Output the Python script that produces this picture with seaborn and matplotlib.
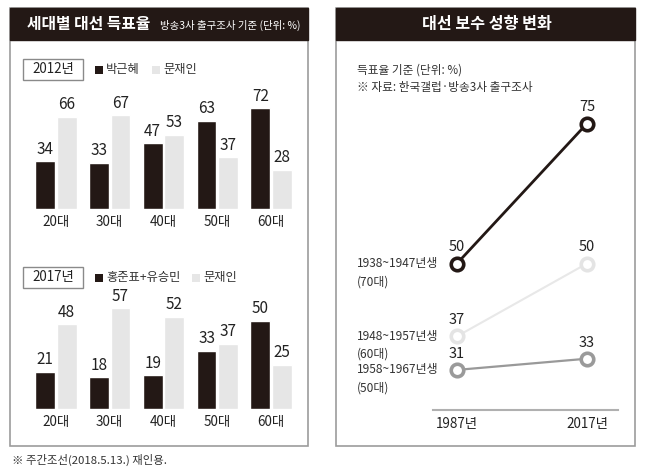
import numpy as np
import pandas as pd
import matplotlib
matplotlib.use("Agg")
import matplotlib.pyplot as plt
import seaborn as sns
from matplotlib.patches import Rectangle

sns.set_theme(style="white")
plt.rcParams['font.family'] = ['Noto Sans CJK KR', 'DejaVu Sans']

# ---------------- data ----------------
age_groups = ["20대", "30대", "40대", "50대", "60대"]
cand_2012 = ["박근혜", "문재인"]
park_2012 = [34, 33, 47, 63, 72]
moon_2012 = [66, 67, 53, 37, 28]
cand_2017 = ["홍준표+유승민", "문재인"]
hong_yoo_2017 = [21, 18, 19, 33, 50]
moon_2017 = [48, 57, 52, 37, 25]

years = [1987, 2017]
year_labels = ["1987년", "2017년"]
cohorts = ["1938~1947년생", "1948~1957년생", "1958~1967년생"]
cohort_ages = ["(70대)", "(60대)", "(50대)"]
cohort_1938_47 = [50, 75]
cohort_1948_57 = [37, 50]
cohort_1958_67 = [31, 33]

DARK = "#231815"
LIGHT = "#e6e6e6"
BORDER = "#9c9c9c"
TXT = "#222222"

W, H = 650, 471
fig = plt.figure(figsize=(W / 100, H / 100), dpi=100)


def px_axes(x0, y0, x1, y1):
    return [x0 / W, 1 - y1 / H, (x1 - x0) / W, (y1 - y0) / H]


# background axes in pixel coordinates
bg = fig.add_axes([0, 0, 1, 1])
bg.set_xlim(0, W)
bg.set_ylim(H, 0)
bg.axis("off")
bg.set_zorder(0)

for (x0, x1) in [(10, 308), (336, 635)]:
    bg.add_patch(Rectangle((x0, 8), x1 - x0, 438, facecolor="white",
                           edgecolor=BORDER, lw=1.2))
    bg.add_patch(Rectangle((x0, 8), x1 - x0, 32, facecolor=DARK,
                           edgecolor=DARK, lw=1.0))

bg.text(27, 24.5, "세대별 대선 득표율", color="white", fontsize=11.4,
        fontweight="bold", va="center", ha="left")
bg.text(160, 25, "방송3사 출구조사 기준 (단위: %)", color="white", fontsize=7.5,
        va="center", ha="left")
bg.text(487, 24.5, "대선 보수 성향 변화", color="white", fontsize=11.6,
        fontweight="bold", va="center", ha="center")


# legends for bar charts
def legend_block(ytop, ybot, year_text, names, xs):
    bg.add_patch(Rectangle((23, ytop), 60, ybot - ytop, facecolor="white",
                           edgecolor="#8a8a8a", lw=1.0))
    bg.text(53, (ytop + ybot) / 2, year_text, fontsize=9.6, ha="center",
            va="center", color=TXT)
    yc = (ytop + ybot) / 2
    for name, (sx, tx), col in zip(names, xs, [DARK, LIGHT]):
        bg.add_patch(Rectangle((sx, yc - 4), 8, 8, facecolor=col,
                               edgecolor="none"))
        bg.text(tx, yc, name, fontsize=8.8, ha="left", va="center",
                color="#333333")


legend_block(59, 80, "2012년", cand_2012, [(95, 106), (152, 163)])
legend_block(267, 288, "2017년", cand_2017, [(95, 106), (192, 203)])

bg.text(357, 70, "득표율 기준 (단위: %)", fontsize=8.4, ha="left", va="center",
        color="#333333")
bg.text(357, 88, "※ 자료: 한국갤럽·방송3사 출구조사", fontsize=8.4, ha="left",
        va="center", color="#333333")
bg.text(12, 460, "※ 주간조선(2018.5.13.) 재인용.", fontsize=8.2, ha="left",
        va="center", color="#333333")


# ---------------- bar charts ----------------
def bar_chart(rect, scale, a_vals, b_vals, names):
    x0, y0, x1, y1 = rect
    ax = fig.add_axes(px_axes(x0, y0, x1, y1))
    ax.set_zorder(1)
    ax.set_facecolor("none")
    df = pd.DataFrame({
        "age": age_groups * 2,
        "pct": a_vals + b_vals,
        "cand": [names[0]] * len(age_groups) + [names[1]] * len(age_groups),
    })
    sns.barplot(data=df, x="age", y="pct", hue="cand", hue_order=names,
                palette=[DARK, LIGHT], width=0.8, gap=0.08, saturation=1,
                legend=False, ax=ax)
    for c in ax.containers:
        ax.bar_label(c, padding=2.5, fontsize=11, color=TXT)
    ax.set_xlim(-0.5, 4.5)
    ax.set_ylim(0, (y1 - y0) / scale)
    ax.set_xlabel("")
    ax.set_ylabel("")
    ax.set_yticks([])
    for s in ax.spines.values():
        s.set_visible(False)
    ax.tick_params(axis="x", length=0, pad=4.5, labelsize=9.7, labelcolor=TXT)
    return ax


bar_chart((29, 95, 298, 209), 1.40, park_2012, moon_2012, cand_2012)
bar_chart((29, 295, 298, 409), 1.77, hong_yoo_2017, moon_2017, cand_2017)

# ---------------- line chart ----------------
lx0, lx1, ly0, ly1 = 433, 618, 95, 410
ax = fig.add_axes(px_axes(lx0, ly0, lx1, ly1))
ax.set_zorder(1)
ax.set_facecolor("none")

series = [cohort_1938_47, cohort_1948_57, cohort_1958_67]
line_cols = [DARK, "#e8e8e8", "#999999"]
edge_cols = [DARK, "#e4e4e4", "#9a9a9a"]
lws = [2.0, 1.5, 1.6]
for vals, lc, ec, lw, name, agel in zip(series, line_cols, edge_cols, lws,
                                        cohorts, cohort_ages):
    d = pd.DataFrame({"year": years, "pct": vals})
    sns.lineplot(data=d, x="year", y="pct", color=lc, lw=lw, marker="o",
                 markersize=9, markerfacecolor="white", markeredgecolor=ec,
                 markeredgewidth=2.6, ax=ax, clip_on=False)
    for x, v in zip(years, vals):
        ax.annotate(str(v), (x, v), xytext=(0, 6.5), textcoords="offset points",
                    ha="center", va="bottom", fontsize=10.5, color=TXT)
    ax.annotate(name, (years[0], vals[0]), xytext=(-72, 0),
                textcoords="offset points", ha="left", va="center",
                fontsize=8.6, color="#333333", annotation_clip=False)
    ax.annotate(agel, (years[0], vals[0]), xytext=(-72, -13),
                textcoords="offset points", ha="left", va="center",
                fontsize=8.6, color="#333333", annotation_clip=False)

ax.set_xlim(1987 - 24 / 4.333, 2017 + 31 / 4.333)
ax.set_ylim((543.5 - ly1) / 5.6, (543.5 - ly0) / 5.6)
ax.set_xticks(years)
ax.set_xticklabels(year_labels)
ax.set_yticks([])
ax.set_xlabel("")
ax.set_ylabel("")
for k, s in ax.spines.items():
    s.set_visible(k == "bottom")
ax.spines["bottom"].set_color("#b0b0b0")
ax.spines["bottom"].set_linewidth(1.5)
ax.tick_params(axis="x", length=0, pad=5, labelsize=9.7, labelcolor=TXT)

fig.savefig("out.png", dpi=100)
